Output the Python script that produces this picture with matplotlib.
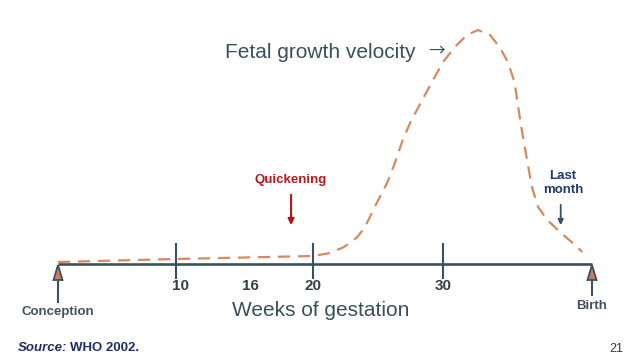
import numpy as np
import matplotlib
matplotlib.use("Agg")
import matplotlib.pyplot as plt
from matplotlib.patches import Polygon

# ---- data ----
weeks = [0, 5, 10, 15, 20, 21.3, 22.3, 22.85, 23.4, 23.77, 24.15, 24.9, 25.7, 26.3, 26.9, 27.5,
         28.2, 29.15, 30.0, 30.8, 31.6, 32.35, 33.15, 33.8, 34.35, 34.8, 35.03,
         35.23, 35.64, 35.97, 36.38, 37.0, 37.85, 38.7, 39.35]
velocity = [2, 3.5, 5, 6.5, 8, 11, 16.5, 21, 27, 33, 41, 61, 81, 101, 124, 142,
            159, 182, 202, 217, 229, 234, 229, 217, 202, 182, 159,
            139, 104, 77, 57, 44, 32, 21, 12]
tick_weeks = [10, 20, 30]
label_weeks = [10, 16, 20, 30]
label_text = ["10", "16", "20", "30"]
start_week, end_week = 0, 40
quickening_week = 18.4
last_month_week = 37.9

# schematic (non-linear) drawing of the week axis
knot_weeks = np.array([-10, 0, 10, 20, 30, 40, 50])
knot_pos = np.array([-60, 58, 176, 313, 443, 592, 741], dtype=float)

def fwd(w):
    return np.interp(w, knot_weeks, knot_pos)

def inv(p):
    return np.interp(p, knot_pos, knot_weeks)

plt.rcParams['font.family'] = ['Liberation Sans', 'DejaVu Sans']

fig = plt.figure(figsize=(6.4, 3.6), dpi=100)
ax = fig.add_axes([0, 0, 1, 1])
ax.set_xscale('function', functions=(fwd, inv))
ax.set_xlim(inv(0), inv(640))
ax.set_ylim(-96, 264)
ax.axis('off')

slate = '#3b5160'
orange = '#d88a5e'

# axis line
ax.plot([start_week, end_week], [0, 0], color=slate, lw=1.9, solid_capstyle='butt', zorder=3)
# ticks
for w in tick_weeks:
    ax.plot([w, w], [20, -14], color=slate, lw=1.5, zorder=3)
for w, t in zip(label_weeks, label_text):
    ax.text(w + (0.35 if t == "10" else (-0.6 if t == "16" else 0)), -22, t,
            ha='center', va='center', fontsize=11, fontweight='bold', color='#34404c')

# curve
ax.plot(weeks, velocity, color=orange, lw=1.6, linestyle=(0, (5.5, 3.5)), zorder=2)

# conception / birth arrows
def up_arrow(w, shaft_bottom):
    ax.plot([w, w], [shaft_bottom, -15], color=slate, lw=1.5, zorder=4)
    p0 = fwd(w)
    tri = Polygon([[inv(p0 - 4.5), -16], [inv(p0 + 4.5), -16], [w, -1]],
                  closed=True, facecolor='#d07a5c', edgecolor=slate, lw=1.3, zorder=5)
    ax.add_patch(tri)

up_arrow(start_week, -38)
up_arrow(end_week, -31)
ax.text(start_week, -48, "Conception", ha='center', va='center', fontsize=9.5,
        fontweight='bold', color='#435160')
ax.text(end_week, -42, "Birth", ha='center', va='center', fontsize=9.5,
        fontweight='bold', color='#435160')

# quickening
ax.text(quickening_week, 84, "Quickening", ha='center', va='center', fontsize=9.5,
        fontweight='bold', color='#c0161e')
ax.annotate("", xy=(quickening_week, 36), xytext=(quickening_week, 72),
            arrowprops=dict(arrowstyle='-|>', color='#b0141c', lw=1.5, mutation_scale=9))

# last month
ax.text(last_month_week + 0.15, 81, "Last\nmonth", ha='center', va='center', fontsize=9.5,
        fontweight='bold', color='#1f3a6e', linespacing=1.3)
ax.annotate("", xy=(last_month_week, 36), xytext=(last_month_week, 62),
            arrowprops=dict(arrowstyle='-|>', color=slate, lw=1.3, mutation_scale=8))

# titles
fig.text(225 / 640, 1 - 52 / 360, "Fetal growth velocity", ha='left', va='center',
         fontsize=15, color='#3a4f5e')
fig.text(437 / 640, 1 - 51 / 360, "\u2192", ha='center', va='center',
         fontsize=12, color='#3a4f5e', family=['Noto Sans CJK SC', 'DejaVu Sans'])
fig.text(321 / 640, 1 - 310 / 360, "Weeks of gestation", ha='center', va='center',
         fontsize=15, color='#3a4f5e')

# source & page
fig.text(18 / 640, 1 - 348 / 360, "Source:", ha='left', va='center', fontsize=9.5,
         fontweight='bold', fontstyle='italic', color='#1f2f6a')
fig.text(70 / 640, 1 - 348 / 360, "WHO 2002.", ha='left', va='center', fontsize=9.5,
         fontweight='bold', color='#1f2f6a')
fig.text(616 / 640, 1 - 349 / 360, "21", ha='center', va='center', fontsize=9,
         color='#333c44')

fig.savefig("out.png", dpi=100)
